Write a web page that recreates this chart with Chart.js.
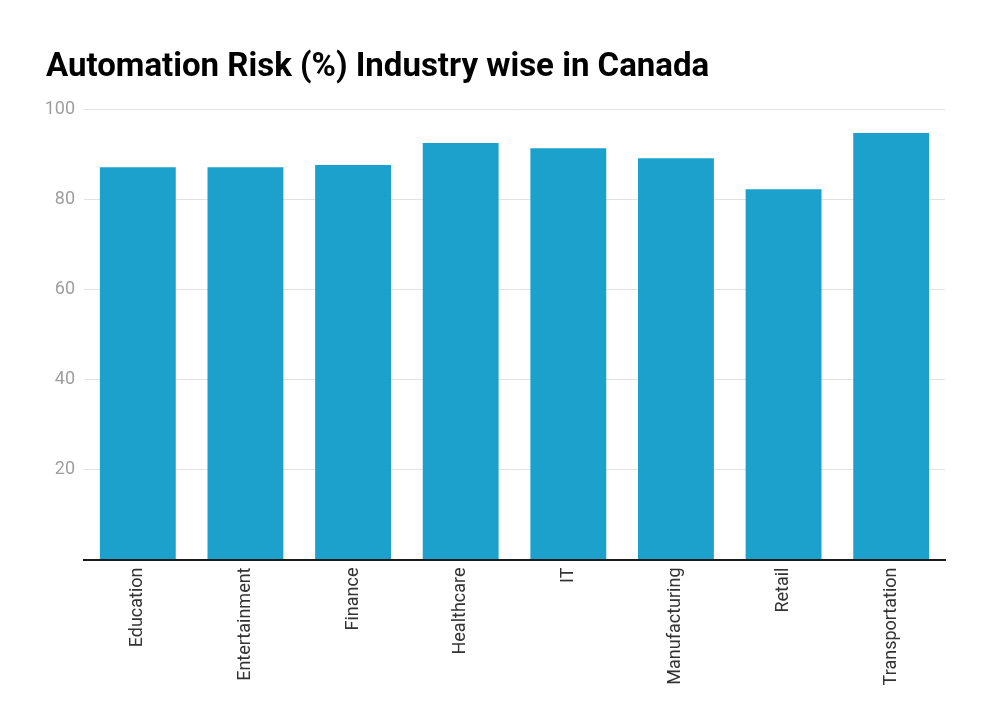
<!DOCTYPE html>
<html>
<head>
<meta charset="utf-8">
<script src="https://cdn.jsdelivr.net/npm/chart.js@4"></script>
<style>
  html, body { margin: 0; padding: 0; background: #ffffff; }
  #wrap { width: 988px; height: 720px; position: relative; }
</style>
</head>
<body>
<div id="wrap"><canvas id="c"></canvas></div>
<script>
const categories = ["Education", "Entertainment", "Finance", "Healthcare", "IT", "Manufacturing", "Retail", "Transportation"];
const riskValues = [87.2, 87.2, 87.7, 92.6, 91.4, 89.2, 82.3, 94.8];
const yTicks = [20, 40, 60, 80, 100];
const titleText = "Automation Risk (%) Industry wise in Canada";

new Chart(document.getElementById('c'), {
  type: 'bar',
  data: {
    labels: categories,
    datasets: [{
      label: 'Automation Risk (%)',
      data: riskValues,
      backgroundColor: '#1ba1cc',
      borderWidth: 0,
      barPercentage: 0.705,
      categoryPercentage: 1.0
    }]
  },
  options: {
    responsive: true,
    maintainAspectRatio: false,
    animation: false,
    layout: { padding: { left: 46, right: 43, top: 0, bottom: 0 } },
    plugins: {
      legend: { display: false },
      tooltip: { enabled: false },
      title: {
        display: true,
        text: titleText,
        align: 'start',
        color: '#000000',
        font: { family: 'Roboto', size: 33, weight: 'bold' },
        padding: { top: 48, bottom: 22 }
      }
    },
    scales: {
      x: {
        grid: { display: false, drawTicks: false },
        border: { display: true, color: '#1a1a1a', width: 2 },
        ticks: {
          minRotation: 90,
          maxRotation: 90,
          padding: 8,
          color: '#333333',
          font: { family: 'Roboto', size: 18 }
        },
        afterFit: (s) => { s.height = 160.5; }
      },
      y: {
        min: 0,
        max: 100,
        afterBuildTicks: (s) => { s.ticks = [0].concat(yTicks).map(v => ({ value: v })); },
        grid: { color: '#e2e2e2', lineWidth: 1, drawTicks: false },
        border: { display: false },
        ticks: {
          padding: 9,
          color: '#9e9e9e',
          font: { family: 'Roboto', size: 18 },
          callback: (v) => (yTicks.includes(v) ? String(v) : '')
        },
        afterFit: (s) => { s.width = 38; }
      }
    }
  }
});
</script>
</body>
</html>
